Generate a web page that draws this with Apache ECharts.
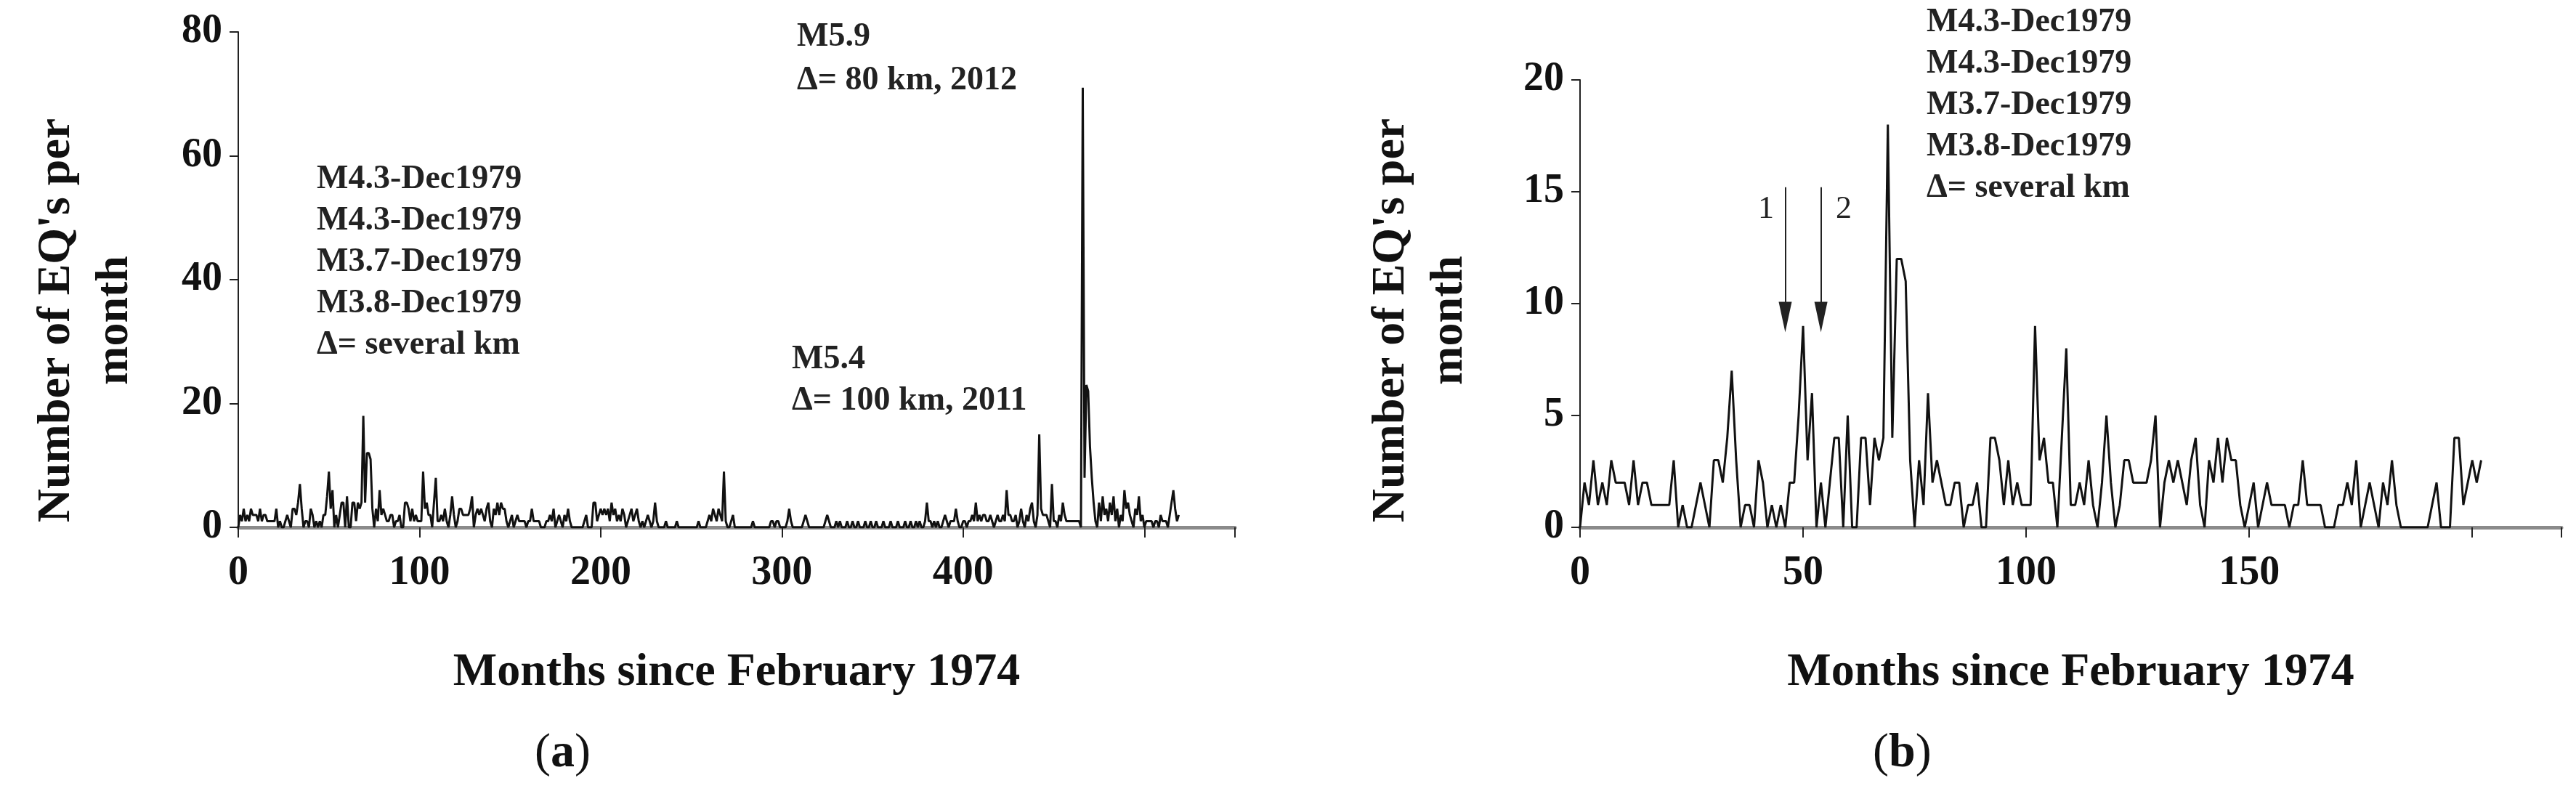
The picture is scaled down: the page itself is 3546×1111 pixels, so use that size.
<!DOCTYPE html>
<html>
<head>
<meta charset="utf-8">
<script src="https://cdn.jsdelivr.net/npm/echarts@6/dist/echarts.min.js"></script>
<style>
  html, body { margin: 0; padding: 0; background: #fff; }
  #chart { width: 3546px; height: 1111px; }
</style>
</head>
<body>
<div id="chart"></div>
<script>
// monthly counts, months 0..202 (panel b, and start of panel a)
var countsEarly = [
  0,2,1,3,1,2,1,3,2,2,
  2,1,3,1,2,2,1,1,1,1,
  1,3,0,1,0,0,1,2,1,0,
  3,3,2,4,7,3,0,1,1,0,
  3,2,0,1,0,1,0,2,2,5,
  9,3,6,0,2,0,2,4,4,0,
  5,0,0,4,4,1,4,3,4,18,
  4,12,12,11,3,0,3,1,6,2,
  3,2,1,1,2,2,0,1,1,2,
  0,0,4,4,3,1,3,1,2,1,
  1,1,9,3,4,2,2,0,4,8,
  1,1,2,1,3,1,0,2,5,2,
  0,1,3,3,2,2,2,2,3,5,
  0,2,3,2,3,2,1,3,4,1,
  0,3,2,4,2,4,3,3,1,0,
  1,2,0,1,2,1,1,1,1,0,
  1,1,3,1,1,1,1,0,0,0,
  1,1,2,1,3,0,1,2,1,0,
  2,1,3,1,0,0,0,0,0,0,
  0,1,2,0,0,0,4,4,1,2,
  3,2,3
];
// monthly counts, months 203..519 (panel a only)
var countsLate = [
  2,3,1,4,2,3,1,
  2,1,3,2,0,1,2,3,1,2,
  3,1,0,1,0,1,2,1,0,1,
  4,1,0,0,0,0,1,0,0,0,
  0,0,1,0,0,0,0,0,0,0,
  0,0,0,0,1,0,0,0,0,1,
  2,1,3,2,1,3,2,1,9,1,
  0,0,1,2,0,0,0,0,0,0,
  0,0,0,0,1,0,0,0,0,0,
  0,0,0,0,1,1,0,1,1,0,
  0,0,0,1,3,1,0,0,0,0,
  0,0,1,2,1,0,0,0,0,0,
  0,0,0,0,1,2,1,0,0,0,
  1,0,1,0,0,0,1,0,0,1,
  0,0,1,0,0,0,1,0,0,1,
  0,0,1,0,0,0,1,0,0,0,
  1,0,0,0,1,0,0,0,1,0,
  0,1,0,0,1,0,1,0,0,1,
  4,1,1,0,1,0,1,0,0,1,
  2,1,0,1,1,1,3,1,0,0,
  1,1,0,1,1,2,1,4,1,2,
  1,2,2,1,1,2,1,0,1,2,
  1,1,2,1,6,2,2,1,1,2,
  0,1,3,1,0,2,1,3,4,1,
  0,2,15,3,2,2,2,1,0,7,
  1,1,0,2,1,4,2,1,1,1,
  1,1,1,1,1,0,71,8,23,22,
  13,8,4,1,0,4,1,5,2,3,
  1,4,2,5,1,3,0,2,1,6,
  3,4,2,1,0,3,2,5,1,2,
  0,1,1,1,1,0,1,1,0,2,
  1,1,1,0,2,4,6,3,1,2
];
var countsAll = countsEarly.concat(countsLate)

var labelsA1 = ['M4.3-Dec1979', 'M4.3-Dec1979', 'M3.7-Dec1979', 'M3.8-Dec1979', '\u0394= several km']
var labelsA2 = ['M5.9', '\u0394= 80 km, 2012']
var labelsA3 = ['M5.4', '\u0394= 100 km, 2011']
var arrowMonths = [46, 54]
var arrowTop = 15.2
var arrowTip = 9.4

function toPairs(arr) {
  return arr.map(function (v, i) { return [i, v] })
}

var serif = 'Liberation Serif'
var chart = echarts.init(document.getElementById('chart'))

function xAxisOf(idx, max, interval) {
  return {
    type: 'value', gridIndex: idx, min: 0, max: max, interval: interval,
    axisLine: { onZero: false, lineStyle: { color: '#8a8a8a', width: 5 } },
    axisTick: { length: 14, lineStyle: { color: '#222', width: 2 } },
    splitLine: { show: false },
    axisLabel: {
      margin: 36, fontFamily: serif, fontWeight: 'bold', fontSize: 56, color: '#111',
      formatter: function (v) { return v > max - interval ? '' : v }
    },
    name: 'Months since February 1974', nameLocation: 'middle', nameGap: 168,
    nameTextStyle: { fontFamily: serif, fontWeight: 'bold', fontSize: 64, color: '#111' }
  }
}

function yAxisOf(idx, max, interval) {
  return {
    type: 'value', gridIndex: idx, min: 0, max: max, interval: interval,
    axisLine: { show: true, lineStyle: { color: '#222', width: 2 } },
    axisTick: { show: true, length: 12, lineStyle: { color: '#222', width: 2 } },
    splitLine: { show: false },
    axisLabel: { margin: 22, fontFamily: serif, fontWeight: 'bold', fontSize: 56, color: '#111' }
  }
}

function textLines(lines, x, y0, step, size) {
  return lines.map(function (t, i) {
    return {
      type: 'text', left: x, top: y0 + i * step,
      style: { text: t, fontFamily: serif, fontWeight: 'bold', fontSize: size, fill: '#222' }
    }
  })
}

function yTitle(cx, cy) {
  return {
    type: 'text', x: cx, y: cy, rotation: Math.PI / 2,
    style: {
      text: "Number of EQ's per\nmonth", fontFamily: serif, fontWeight: 'bold', fontSize: 64,
      lineHeight: 80, fill: '#111', align: 'center', verticalAlign: 'middle'
    }
  }
}

var graphics = []
  .concat(textLines(labelsA1, 436, 224, 57, 46))
  .concat(textLines(labelsA2, 1097, 28, 60, 46))
  .concat(textLines(labelsA3, 1090, 472, 57, 46))
  .concat(textLines(labelsA1, 2652, 8, 57, 46))
  .concat([
    yTitle(118, 441),
    yTitle(1955, 441),
    { type: 'text', left: 2420, top: 266, style: { text: '1', fontFamily: serif, fontSize: 44, fill: '#222' } },
    { type: 'text', left: 2527, top: 266, style: { text: '2', fontFamily: serif, fontSize: 44, fill: '#222' } },
    { type: 'text', left: 736, top: 1005, style: {
      text: '({b|a})', fontFamily: serif, fontSize: 66, fill: '#111',
      rich: { b: { fontFamily: serif, fontWeight: 'bold', fontSize: 66, fill: '#111' } } } },
    { type: 'text', left: 2578, top: 1005, style: {
      text: '({b|b})', fontFamily: serif, fontSize: 66, fill: '#111',
      rich: { b: { fontFamily: serif, fontWeight: 'bold', fontSize: 66, fill: '#111' } } } }
  ])

chart.setOption({
  backgroundColor: '#fff',
  animation: false,
  grid: [
    { left: 328, top: 44, width: 1372, height: 682 },
    { left: 2175, top: 110, width: 1351, height: 616 }
  ],
  xAxis: [xAxisOf(0, 550, 100), xAxisOf(1, 220, 50)],
  yAxis: [yAxisOf(0, 80, 20), yAxisOf(1, 20, 5)],
  series: [
    {
      type: 'line', xAxisIndex: 0, yAxisIndex: 0, data: toPairs(countsAll),
      showSymbol: false, lineStyle: { color: '#111', width: 3 }
    },
    {
      type: 'line', xAxisIndex: 1, yAxisIndex: 1, data: toPairs(countsEarly),
      showSymbol: false, lineStyle: { color: '#111', width: 3 },
      markLine: {
        silent: true, symbol: ['none', 'triangle'], symbolSize: [18, 42], label: { show: false },
        lineStyle: { color: '#222', width: 2, type: 'solid' },
        data: arrowMonths.map(function (m) {
          return [{ coord: [m, arrowTop] }, { coord: [m, arrowTip] }]
        })
      }
    }
  ],
  graphic: graphics
})
</script>
</body>
</html>
